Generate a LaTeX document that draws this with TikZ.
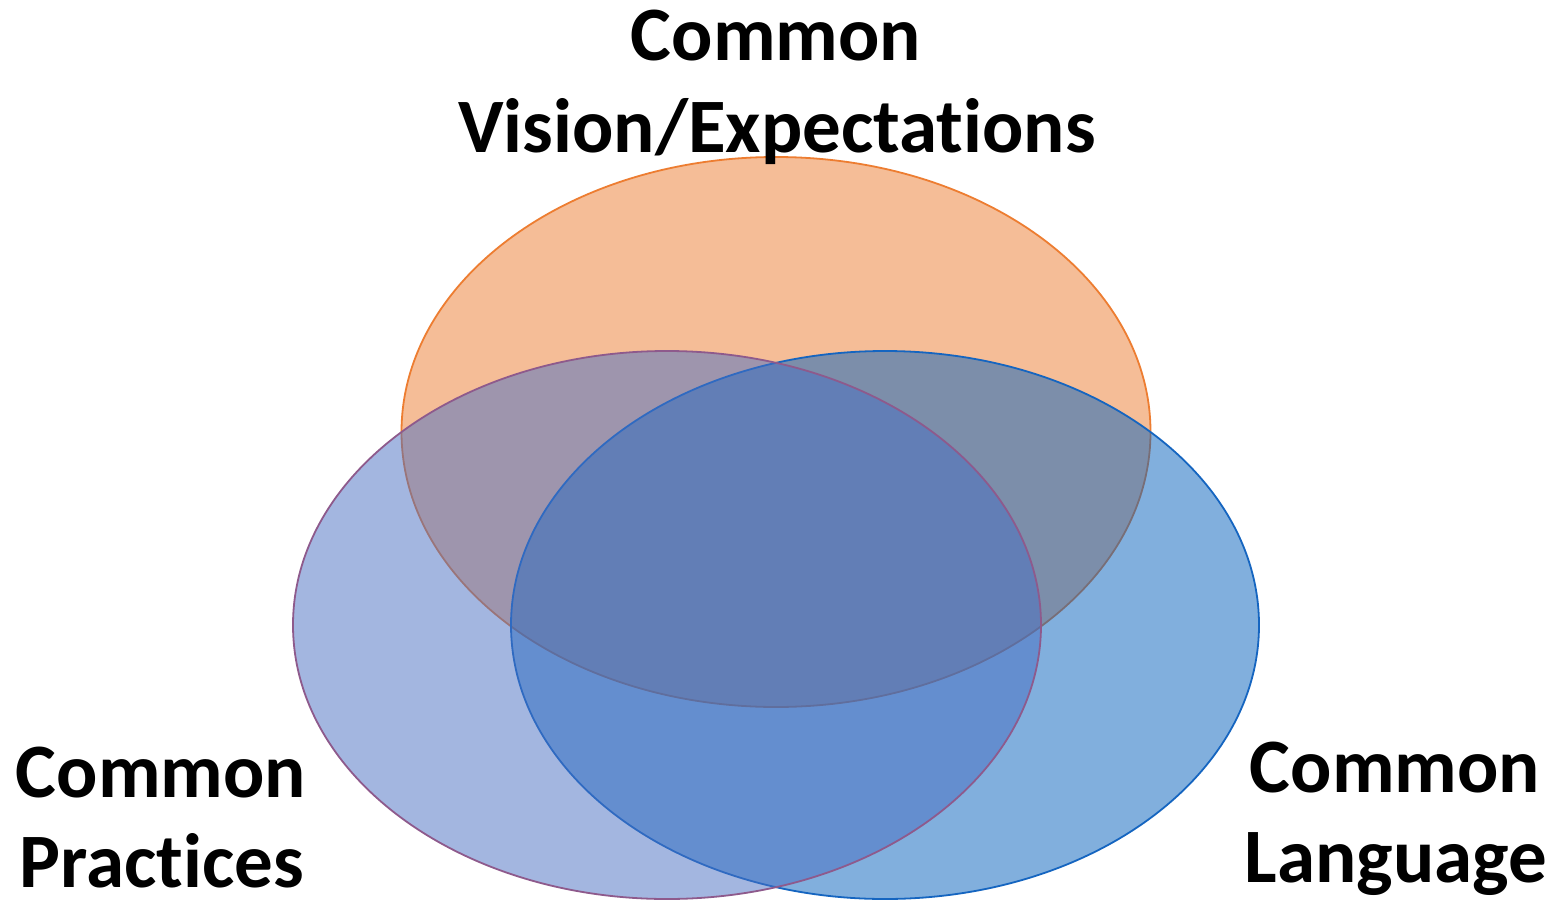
\documentclass[tikz,border=0pt]{standalone}
\usepackage{fontspec}
\setmainfont{Carlito}[Ligatures=NoCommon]
\definecolor{vorange}{HTML}{ED7D31}
\definecolor{lfill}{HTML}{496FC3}
\definecolor{rfill}{HTML}{0561BD}
\definecolor{lline}{HTML}{8E5A8C}
\definecolor{rline}{HTML}{1565C0}
\tikzset{
  lbl/.style={anchor=base, inner sep=0pt, font=\fontsize{77}{91}\selectfont\bfseries, text=black},
  venn/.style={line width=1.8pt, fill opacity=0.5}
}
\begin{document}
\begin{tikzpicture}[x=1pt,y=-1pt]
\useasboundingbox (0,0) rectangle (1557,899);
\fill[white] (0,0) rectangle (1557,899);
% top (orange)
\path[venn, fill=vorange, draw=vorange] (776,432) ellipse [x radius=374.5, y radius=275];
% right (blue)
\path[venn, fill=rfill, draw=rline] (885,625) ellipse [x radius=374, y radius=274];
% left (lavender blue)
\path[venn, fill=lfill, draw=lline] (667,625) ellipse [x radius=374, y radius=274];
% labels
\node[lbl] (vis1) at (776,60) {Common};
\node[lbl] (vis2) at (777,152) {Vision/Expectations};
\node[lbl] (pra1) at (161,797) {Common};
\node[lbl] (pra2) at (162,887) {Practices};
\node[lbl] (lan1) at (1395,792) {Common};
\node[lbl] (lan2) at (1396,882) {Language};
\end{tikzpicture}
\end{document}
